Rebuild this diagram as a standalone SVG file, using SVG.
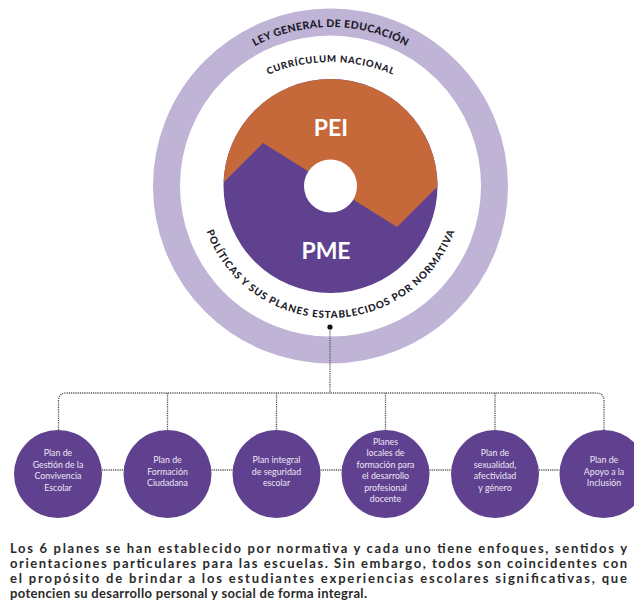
<svg xmlns="http://www.w3.org/2000/svg" width="634" height="609" viewBox="0 0 634 609">
<style>
.ring{fill:none;stroke:#bfb3d6;stroke-width:27}
.arc{font-family:Lato,"Open Sans",sans-serif;font-weight:900;fill:#1c1b2a}
.big{font-family:Lato,"Noto Sans",sans-serif;font-weight:700;font-size:23px;fill:#ffffff;text-anchor:middle}
.plan circle{fill:#60418f}
.plan text{font-family:Lato,"Noto Sans",sans-serif;font-size:8.8px;fill:#ece6f4;text-anchor:middle}
.dot{fill:none;stroke:#555;stroke-width:1.3;stroke-dasharray:1.2 1}
.para{font-family:Lato,"Noto Sans",sans-serif;font-weight:700;font-size:13px;fill:#2a2a2a}
</style>
<defs>
<path id="pTop" d="M171.5,186 A159,159 0 0 1 489.5,186"/>
<path id="pCur" d="M170.5,222 A160,160 0 0 1 490.5,222"/>
<path id="pBot" d="M198.5,186 A132,132 0 0 0 462.5,186"/>
</defs>
<rect width="634" height="609" fill="#ffffff"/>
<g id="ley">
<circle class="ring" cx="330.5" cy="186" r="164"/>
<text class="arc" font-size="10.5"><textPath href="#pTop" startOffset="50%" text-anchor="middle" textLength="158" lengthAdjust="spacing">LEY GENERAL DE EDUCACIÓN</textPath></text>
</g>
<g id="curriculum">
<text class="arc" font-size="9.5"><textPath href="#pCur" startOffset="50%" text-anchor="middle" textLength="128" lengthAdjust="spacing">CURRÍCULUM NACIONAL</textPath></text>
</g>
<g id="politicas">
<text class="arc" font-size="10"><textPath href="#pBot" startOffset="50%" text-anchor="middle" textLength="322" lengthAdjust="spacing">POLÍTICAS Y SUS PLANES ESTABLECIDOS POR NORMATIVA</textPath></text>
</g>
<g id="pme">
<circle cx="330.5" cy="186" r="107" fill="#60418f"/>
<text class="big" x="326" y="259">PME</text>
</g>
<g id="pei">
<path d="M223.56,182.44 L263,143 L397,227 L437.5,186.5 A107,107 0 0 0 223.56,182.44 Z" fill="#c5693b"/>
<text class="big" x="331" y="136">PEI</text>
<circle cx="330.5" cy="186" r="26.5" fill="#ffffff"/>
</g>
<g id="connectors">
<circle cx="330" cy="327" r="2.6" fill="#111"/>
<path class="dot" d="M330,329 V393"/>
<path class="dot" d="M58.5,430 V401 Q58.5,393 66.5,393 H596 Q604,393 604,401 V430"/>
<path class="dot" d="M167.5,393 V430 M276.5,393 V430 M385.5,393 V430 M495,393 V430"/>
<path class="dot" d="M102,470 H123.5 M211.5,470 H232.5 M320.5,470 H341.5 M429.5,470 H451 M539,470 H559.5"/>
</g>
<g id="plan1" class="plan">
<circle cx="58" cy="474" r="44"/>
<text x="58" y="456">Plan de</text>
<text x="58" y="467.5">Gestión de la</text>
<text x="58" y="479">Convivencia</text>
<text x="58" y="490.5">Escolar</text>
</g>
<g id="plan2" class="plan">
<circle cx="167.5" cy="474" r="44"/>
<text x="167.5" y="463">Plan de</text>
<text x="167.5" y="474.5">Formación</text>
<text x="167.5" y="486">Ciudadana</text>
</g>
<g id="plan3" class="plan">
<circle cx="276.5" cy="474" r="44"/>
<text x="276.5" y="463">Plan integral</text>
<text x="276.5" y="474.5">de seguridad</text>
<text x="276.5" y="486">escolar</text>
</g>
<g id="plan4" class="plan">
<circle cx="385.5" cy="474" r="44"/>
<text x="385.5" y="444.5">Planes</text>
<text x="385.5" y="456">locales de</text>
<text x="385.5" y="467.5">formación para</text>
<text x="385.5" y="479">el desarrollo</text>
<text x="385.5" y="490.5">profesional</text>
<text x="385.5" y="502">docente</text>
</g>
<g id="plan5" class="plan">
<circle cx="495" cy="474" r="44"/>
<text x="495" y="456">Plan de</text>
<text x="495" y="467.5">sexualidad,</text>
<text x="495" y="479">afectividad</text>
<text x="495" y="490.5">y género</text>
</g>
<g id="plan6" class="plan">
<circle cx="603.5" cy="474" r="44"/>
<text x="604" y="463">Plan de</text>
<text x="604" y="474.5">Apoyo a la</text>
<text x="604" y="486">Inclusión</text>
</g>
<g id="parrafo" class="para">
<text x="10" y="553" textLength="617" lengthAdjust="spacing">Los 6 planes se han establecido por normativa y cada uno tiene enfoques, sentidos y</text>
<text x="10" y="568" textLength="617" lengthAdjust="spacing">orientaciones particulares para las escuelas. Sin embargo, todos son coincidentes con</text>
<text x="10" y="583" textLength="617" lengthAdjust="spacing">el propósito de brindar a los estudiantes experiencias escolares significativas, que</text>
<text x="10" y="598" textLength="357" lengthAdjust="spacing">potencien su desarrollo personal y social de forma integral.</text>
</g>
</svg>
